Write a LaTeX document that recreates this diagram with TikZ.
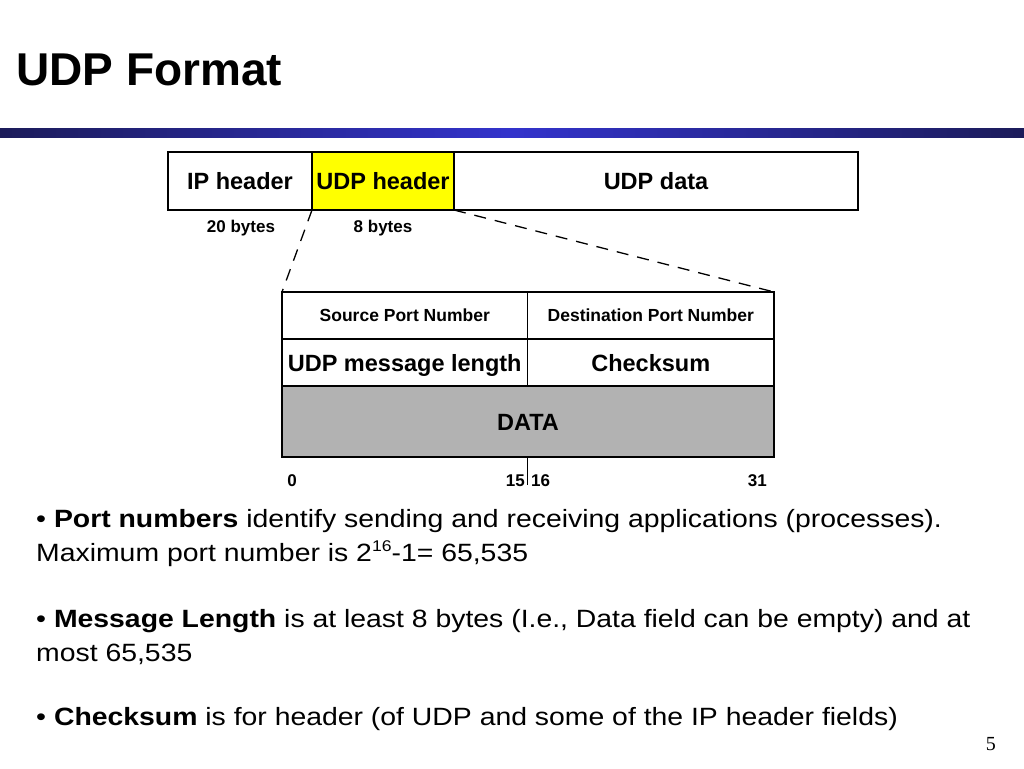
\documentclass[tikz,border=0pt]{standalone}
\usepackage{fontspec}
\usepackage{graphicx}
\setmainfont{Liberation Sans}
\newfontfamily\pagenumfont{Liberation Serif}
\definecolor{barEdge}{HTML}{1C1C5A}
\definecolor{barMid}{HTML}{3333CC}
\definecolor{hdrYellow}{HTML}{FFFF00}
\definecolor{dataGray}{HTML}{B2B2B2}
\newcommand{\wide}[1]{\scalebox{1.135}[1]{#1}}
\tikzset{
  cell/.style={draw=black, line width=1.4pt, inner sep=0pt, outer sep=0pt, anchor=center, text height=17pt, text depth=0pt, font=\fontsize{23.5}{26}\selectfont\bfseries},
  smallcell/.style={cell, text height=12.5pt, text depth=0pt, font=\fontsize{17.5}{20}\selectfont\bfseries},
  lbl/.style={inner sep=0pt, font=\fontsize{17}{20}\selectfont\bfseries},
  bullet/.style={inner sep=0pt, anchor=base west, font=\fontsize{25}{30}\selectfont},
  zoomline/.style={line width=1.3pt, dash pattern=on 12pt off 9pt},
}
\begin{document}
\begin{tikzpicture}[x=1pt,y=-1pt]
\useasboundingbox (0,0) rectangle (1024,768);
\fill[white] (0,0) rectangle (1024,768);
% title
\node[inner sep=0pt, anchor=base west, font=\fontsize{46}{50}\selectfont\bfseries] (title) at (16,85) {UDP Format};
% gradient bar
\shade[left color=barEdge, right color=barMid] (0,128) rectangle (512,137);
\shade[left color=barMid, right color=barEdge] (512,128) rectangle (1024,137);
% top packet
\node[cell, minimum width=144pt, minimum height=58pt] (ip) at (240,181) {IP header};
\node[cell, fill=hdrYellow, minimum width=142pt, minimum height=58pt] (udp) at (383,181) {UDP header};
\node[cell, minimum width=404pt, minimum height=58pt] (udpdata) at (656,181) {UDP data};
\node[lbl, anchor=base] (b20) at (241,232) {20 bytes};
\node[lbl, anchor=base] (b8) at (383,232) {8 bytes};
% header table
\node[smallcell, minimum width=245.5pt, minimum height=47pt] (src) at (404.75,315.5) {Source Port Number};
\node[smallcell, minimum width=246.5pt, minimum height=47pt] (dst) at (650.75,315.5) {Destination Port Number};
\node[cell, minimum width=245.5pt, minimum height=47pt] (len) at (404.75,362.5) {UDP message length};
\node[cell, minimum width=246.5pt, minimum height=47pt] (chk) at (650.75,362.5) {Checksum};
\node[cell, fill=dataGray, minimum width=492pt, minimum height=71pt] (data) at (528,421.5) {DATA};
% zoom lines
\draw[zoomline] (udp.south west) -- (src.north west);
\draw[zoomline] (udp.south east) -- (dst.north east);
% bit tick and labels
\coordinate (tick) at (527.5,485);
\draw[line width=1pt] (data.south -| len.east) -- (tick);
\node[lbl, anchor=base] (n0) at (292,486) {0};
\node[lbl, anchor=base east] (n15) at (525,486) {15};
\node[lbl, anchor=base west] (n16) at (531,486) {16};
\node[lbl, anchor=base east] (n31) at (767,486) {31};
% bullets
\node[bullet] (p1a) at (36,527) {\wide{• \textbf{Port numbers} identify sending and receiving applications (processes).}};
\node[bullet] (p1b) at (36,561) {\wide{Maximum port number is 2\raisebox{0.4em}{\fontsize{15.5}{15}\selectfont 16}-1= 65,535}};
\node[bullet] (p2a) at (36,627) {\wide{• \textbf{Message Length} is at least 8 bytes (I.e., Data field can be empty) and at}};
\node[bullet] (p2b) at (36,661) {\wide{most 65,535}};
\node[bullet] (p3) at (36,725) {\wide{• \textbf{Checksum} is for header (of UDP and some of the IP header fields)}};
% page number
\node[inner sep=0pt, anchor=base east, font=\pagenumfont\fontsize{20}{22}\selectfont] (pg) at (996,750) {5};
\end{tikzpicture}
\end{document}
